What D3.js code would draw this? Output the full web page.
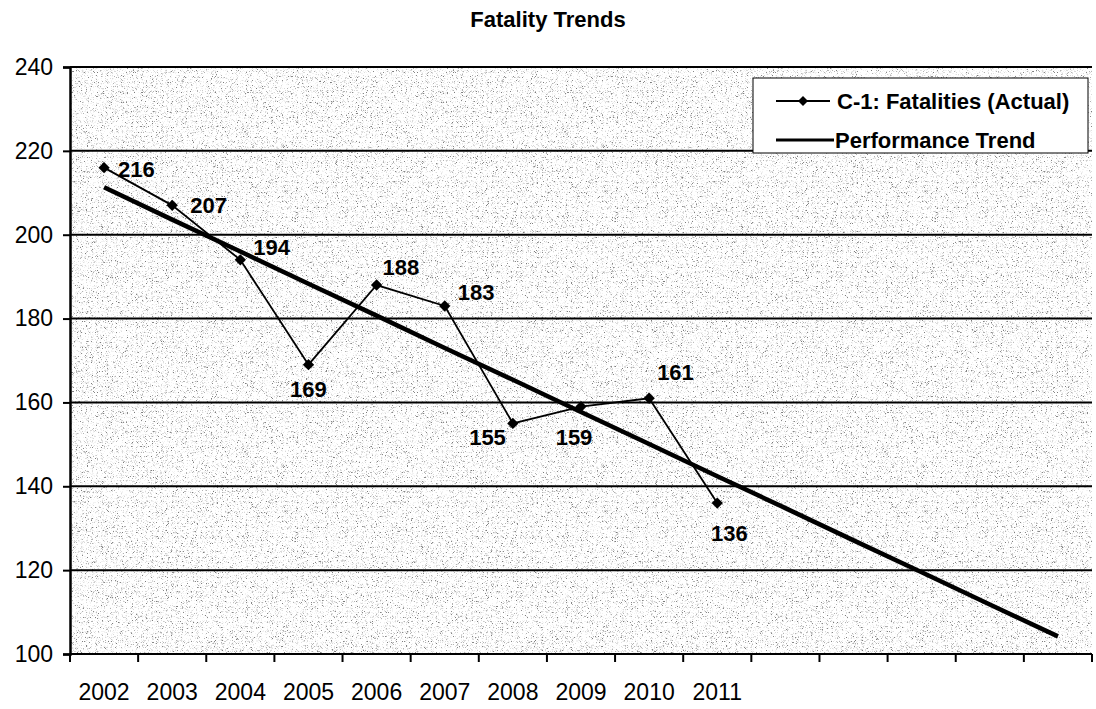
<!DOCTYPE html>
<html>
<head>
<meta charset="utf-8">
<script src="https://cdn.jsdelivr.net/npm/d3@7"></script>
<style>
    body { margin: 0; background: #fff; }
    svg { display: block; font-family: "Liberation Sans", Arial, sans-serif; }
</style>
</head>
<body>
<div id="chart"></div>
<script>
// categories on the x axis (only the first ten carry a label)
const categories = ['2002', '2003', '2004', '2005', '2006', '2007', '2008', '2009',
                    '2010', '2011', '2012', '2013', '2014', '2015', '2016'];
const labeledYears = ['2002', '2003', '2004', '2005', '2006', '2007', '2008', '2009', '2010', '2011'];

// C-1: Fatalities (Actual)
const actualYears = ['2002', '2003', '2004', '2005', '2006', '2007', '2008', '2009', '2010', '2011'];
const actualValues = [216, 207, 194, 169, 188, 183, 155, 159, 161, 136];

// Performance Trend for every category
const trendValues = [211.3, 203.6, 196.0, 188.3, 180.7, 173.0, 165.4, 157.7,
                     150.1, 142.4, 134.8, 127.1, 119.5, 111.8, 104.2];

const yTicks = [100, 120, 140, 160, 180, 200, 220, 240];

// where each data label sits relative to its point: [dx, dy, anchor]
const labelPlacement = [
    [14, 9, 'start'], [18, 8, 'start'], [13, -5, 'start'], [0, 32, 'middle'], [6, -10, 'start'],
    [13, -6, 'start'], [-7, 22, 'end'], [-7, 38, 'middle'], [8, -18, 'start'], [12, 38, 'middle']
];

const chartWidth = 1096, chartHeight = 709;
const plotLeft = 70, plotRight = 1092, plotTop = 67, plotBottom = 654;

const svg = d3.select('#chart').append('svg')
    .attr('width', chartWidth)
    .attr('height', chartHeight);

// speckled plot background
const defs = svg.append('defs');
const speckle = defs.append('filter')
    .attr('id', 'speckle')
    .attr('x', 0).attr('y', 0).attr('width', '100%').attr('height', '100%');
speckle.append('feTurbulence')
    .attr('type', 'fractalNoise')
    .attr('baseFrequency', 0.8)
    .attr('numOctaves', 3)
    .attr('seed', 7);
speckle.append('feColorMatrix')
    .attr('type', 'matrix')
    .attr('values', '1 0 0 0 0  1 0 0 0 0  1 0 0 0 0  0 0 0 0 1');
const transfer = speckle.append('feComponentTransfer');
const table = '0.2 0.2 0.2 0.2 0.25 0.45 0.7 0.9 1 1 1 1 1 0.9 0.75 0.6 0.5 0.45 0.45 0.45';
['feFuncR', 'feFuncG', 'feFuncB'].forEach(f => {
    transfer.append(f).attr('type', 'discrete').attr('tableValues', table);
});

const x = d3.scaleBand()
    .domain(categories)
    .range([plotLeft, plotRight])
    .paddingInner(0)
    .paddingOuter(0);

const y = d3.scaleLinear()
    .domain([100, 240])
    .range([plotBottom, plotTop]);

const cx = d => x(d) + x.bandwidth() / 2;

svg.append('rect')
    .attr('x', plotLeft)
    .attr('y', plotTop)
    .attr('width', plotRight - plotLeft)
    .attr('height', plotBottom - plotTop)
    .attr('filter', 'url(#speckle)');

// title
svg.append('text')
    .attr('x', 548)
    .attr('y', 27)
    .attr('text-anchor', 'middle')
    .attr('font-size', 22)
    .attr('font-weight', 'bold')
    .text('Fatality Trends');

// horizontal grid lines
svg.append('g')
    .selectAll('line')
    .data(yTicks)
    .join('line')
    .attr('x1', plotLeft)
    .attr('x2', plotRight)
    .attr('y1', d => y(d))
    .attr('y2', d => y(d))
    .attr('stroke', '#000')
    .attr('stroke-width', 2);

// y axis
const yAxis = svg.append('g')
    .attr('transform', `translate(${plotLeft},0)`)
    .call(d3.axisLeft(y).tickValues(yTicks).tickSize(7).tickPadding(10));
yAxis.select('.domain').attr('stroke-width', 2.5);
yAxis.selectAll('.tick line').attr('stroke-width', 2);
yAxis.selectAll('.tick text')
    .attr('font-size', 23)
    .attr('fill', '#000')
    .attr('font-family', '"Liberation Sans", Arial, sans-serif');

// x axis: ticks on the band edges, labels in the middle
const edges = categories.map(c => x(c)).concat([plotRight]);
svg.append('g')
    .selectAll('line')
    .data(edges)
    .join('line')
    .attr('x1', d => d)
    .attr('x2', d => d)
    .attr('y1', plotBottom)
    .attr('y2', plotBottom + 8)
    .attr('stroke', '#000')
    .attr('stroke-width', 2);

const xAxis = svg.append('g')
    .attr('transform', `translate(0,${plotBottom})`)
    .call(d3.axisBottom(x)
        .tickSize(0)
        .tickPadding(30)
        .tickFormat(d => labeledYears.includes(d) ? d : ''));
xAxis.select('.domain').remove();
xAxis.selectAll('.tick text')
    .attr('font-size', 23)
    .attr('fill', '#000')
    .attr('font-family', '"Liberation Sans", Arial, sans-serif');

// performance trend
const trendLine = d3.line()
    .x((d, i) => cx(categories[i]))
    .y(d => y(d));

svg.append('path')
    .datum(trendValues)
    .attr('d', trendLine)
    .attr('fill', 'none')
    .attr('stroke', '#000')
    .attr('stroke-width', 4.5);

// actual fatalities
const actualLine = d3.line()
    .x((d, i) => cx(actualYears[i]))
    .y(d => y(d));

svg.append('path')
    .datum(actualValues)
    .attr('d', actualLine)
    .attr('fill', 'none')
    .attr('stroke', '#000')
    .attr('stroke-width', 1.8);

const diamond = d3.symbol().type(d3.symbolSquare).size(64);

svg.append('g')
    .selectAll('path')
    .data(actualValues)
    .join('path')
    .attr('d', diamond)
    .attr('transform', (d, i) => `translate(${cx(actualYears[i])},${y(d)}) rotate(45)`)
    .attr('fill', '#000');

svg.append('g')
    .selectAll('text')
    .data(actualValues)
    .join('text')
    .attr('x', (d, i) => cx(actualYears[i]) + labelPlacement[i][0])
    .attr('y', (d, i) => y(d) + labelPlacement[i][1])
    .attr('text-anchor', (d, i) => labelPlacement[i][2])
    .attr('font-size', 22)
    .attr('font-weight', 'bold')
    .text(d => d);

// legend
const legend = svg.append('g');
legend.append('rect')
    .attr('x', 753)
    .attr('y', 78)
    .attr('width', 335)
    .attr('height', 75)
    .attr('fill', '#fff')
    .attr('stroke', '#000')
    .attr('stroke-width', 1);

legend.append('line')
    .attr('x1', 776).attr('x2', 830)
    .attr('y1', 101).attr('y2', 101)
    .attr('stroke', '#000')
    .attr('stroke-width', 2);
legend.append('path')
    .attr('d', d3.symbol().type(d3.symbolSquare).size(50))
    .attr('transform', 'translate(803,101) rotate(45)')
    .attr('fill', '#000');
legend.append('text')
    .attr('x', 837)
    .attr('y', 109)
    .attr('font-size', 22)
    .attr('font-weight', 'bold')
    .text('C-1: Fatalities (Actual)');

legend.append('line')
    .attr('x1', 776).attr('x2', 834)
    .attr('y1', 140).attr('y2', 140)
    .attr('stroke', '#000')
    .attr('stroke-width', 3);
legend.append('text')
    .attr('x', 835)
    .attr('y', 148)
    .attr('font-size', 22)
    .attr('font-weight', 'bold')
    .text('Performance Trend');
</script>
</body>
</html>
